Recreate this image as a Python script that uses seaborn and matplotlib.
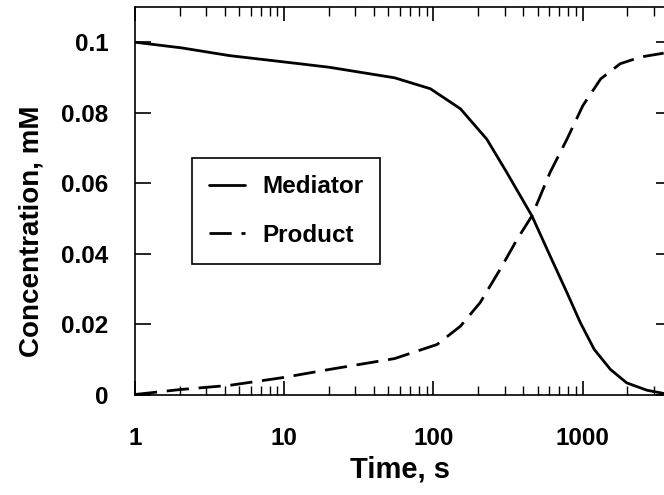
import numpy as np
import pandas as pd
import matplotlib
matplotlib.use('Agg')  # no display in the sandbox
import matplotlib.pyplot as plt
from matplotlib.ticker import LogLocator, NullLocator, NullFormatter
import seaborn as sns

# Concentrations (mM) vs time (s)
mediator_time = [1, 2.05, 4.3, 10, 20, 55, 95.5, 152, 228, 310, 458, 607, 787, 967, 1198, 1540, 1978, 2710, 3500]
mediator_conc = [0.1, 0.0984, 0.0962, 0.0944, 0.0929, 0.0899, 0.0868, 0.0811, 0.0725, 0.0631,
                 0.0507, 0.0393, 0.0289, 0.0204, 0.0128, 0.0071, 0.0033, 0.0012, 0.0003]

product_time = [1, 2, 4.3, 9.8, 20, 55, 106, 152, 206, 281, 365, 458, 607, 787, 1005, 1324, 1790, 2450, 3500]
product_conc = [0.0, 0.0014, 0.0026, 0.0048, 0.0071, 0.0102, 0.0142, 0.0194, 0.0261, 0.0356,
                0.0441, 0.0507, 0.0631, 0.0725, 0.082, 0.0896, 0.0939, 0.0958, 0.0969]

species_names = ['Mediator', 'Product']
x_ticks = [1, 10, 100, 1000]
x_tick_labels = ['1', '10', '100', '1000']
y_ticks = [0, 0.02, 0.04, 0.06, 0.08, 0.1]
y_tick_labels = ['0', '0.02', '0.04', '0.06', '0.08', '0.1']

df = pd.concat([
    pd.DataFrame({'time': mediator_time, 'conc': mediator_conc, 'species': species_names[0]}),
    pd.DataFrame({'time': product_time, 'conc': product_conc, 'species': species_names[1]}),
], ignore_index=True)

sns.set_style('ticks')
plt.rcParams['font.family'] = ['Liberation Sans', 'DejaVu Sans']
plt.rcParams.update({
    'font.weight': 'bold',
    'axes.labelweight': 'bold',
    'axes.edgecolor': 'black',
    'axes.labelcolor': 'black',
    'text.color': 'black',
    'xtick.color': 'black',
    'ytick.color': 'black',
    'axes.linewidth': 1.2,
})

fig = plt.figure(figsize=(6.64, 4.95), dpi=100)
# right spine sits just past the image edge, as in the original
ax = fig.add_axes([135 / 664, 100.5 / 495, 530.5 / 664, 387.5 / 495])

sns.lineplot(data=df, x='time', y='conc', style='species', style_order=species_names,
             dashes={'Mediator': '', 'Product': (8, 3.5)}, color='black',
             linewidth=2, ax=ax)

ax.set_xscale('log')
ax.set_xlim(1, 3600)
ax.set_ylim(0, 0.11)

ax.set_xticks(x_ticks, x_tick_labels)
ax.xaxis.set_minor_locator(LogLocator(base=10, subs=np.arange(2, 10), numticks=20))
ax.xaxis.set_minor_formatter(NullFormatter())
ax.set_yticks(y_ticks, y_tick_labels)
ax.yaxis.set_minor_locator(NullLocator())

ax.tick_params(axis='x', which='both', direction='in', top=True, bottom=True, labelsize=17.5)
ax.tick_params(axis='x', which='major', length=10, width=1.2, pad=23.5)
ax.tick_params(axis='x', which='minor', length=6.5, width=1.0)
ax.tick_params(axis='y', which='major', direction='in', left=True, right=False,
               length=11.5, width=1.2, labelsize=17.5, pad=19)

# right-hand ticks are shorter than the left ones
sec = ax.secondary_yaxis('right')
sec.yaxis.set_ticks(y_ticks)
sec.tick_params(direction='in', length=7, width=1.2, labelright=False)

ax.set_xlabel('Time, s', fontsize=21, fontweight='bold', labelpad=4)
ax.set_ylabel('Concentration, mM', fontsize=20, fontweight='bold', labelpad=12, y=0.422)

handles, labels = ax.get_legend_handles_labels()
keep = [i for i, l in enumerate(labels) if l in species_names]
leg = ax.legend([handles[i] for i in keep], [labels[i] for i in keep],
                loc='upper left', bbox_to_anchor=(0.107, 0.610), borderaxespad=0,
                frameon=True, fancybox=False, edgecolor='black', framealpha=1,
                fontsize=17.5, handlelength=1.5, handletextpad=0.7,
                labelspacing=1.05, borderpad=0.7)
leg.get_frame().set_linewidth(1.2)

fig.savefig('out.png', dpi=100)
